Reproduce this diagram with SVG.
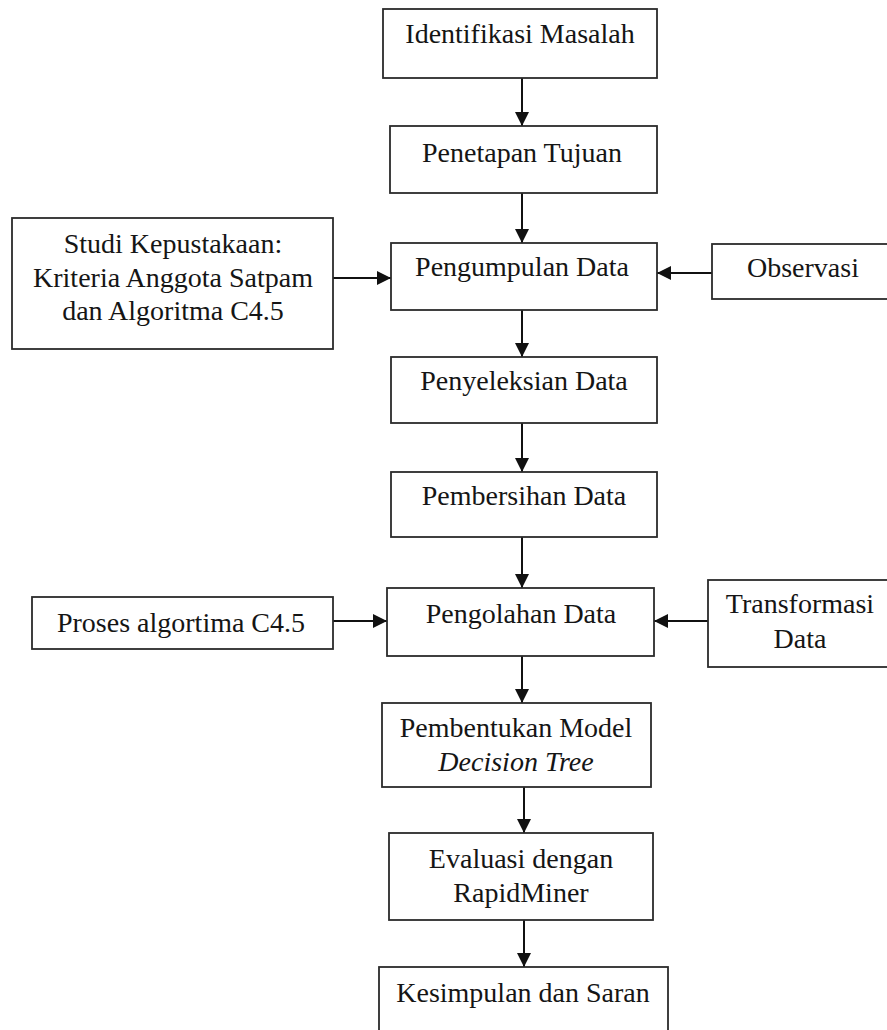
<svg xmlns="http://www.w3.org/2000/svg" width="887" height="1030" viewBox="0 0 887 1030">
  <style>
    .box { fill: #ffffff; stroke: #2b2b2b; stroke-width: 1.8; }
    .lbl { font-family: "Liberation Serif", "Times New Roman", serif; font-size: 28px; fill: #151515; text-anchor: middle; }
    .it { font-style: italic; }
    .edge { stroke: #111111; stroke-width: 2; fill: none; marker-end: url(#arrow); }
  </style>
  <defs>
    <marker id="arrow" markerUnits="userSpaceOnUse" markerWidth="15" markerHeight="15" refX="14" refY="7" orient="auto">
      <path d="M0,0 L14,7 L0,14 Z" fill="#111111"/>
    </marker>
  </defs>
  <rect width="887" height="1030" fill="#ffffff"/>

  <!-- connectors -->
  <g id="connectors">
    <line class="edge" x1="522" y1="78" x2="522" y2="126"/>
    <line class="edge" x1="522" y1="193" x2="522" y2="243"/>
    <line class="edge" x1="333" y1="278" x2="391" y2="278"/>
    <line class="edge" x1="712" y1="273" x2="657" y2="273"/>
    <line class="edge" x1="522" y1="310" x2="522" y2="357"/>
    <line class="edge" x1="522" y1="423" x2="522" y2="472"/>
    <line class="edge" x1="522" y1="537" x2="522" y2="588"/>
    <line class="edge" x1="333" y1="621" x2="387" y2="621"/>
    <line class="edge" x1="708" y1="621" x2="654" y2="621"/>
    <line class="edge" x1="522" y1="656" x2="522" y2="703"/>
    <line class="edge" x1="524" y1="787" x2="524" y2="833"/>
    <line class="edge" x1="524" y1="920" x2="524" y2="967"/>
  </g>

  <g id="identifikasi">
    <rect class="box" x="383" y="9" width="274" height="69"/>
    <text class="lbl" x="520" y="43">Identifikasi Masalah</text>
  </g>
  <g id="penetapan">
    <rect class="box" x="390" y="126" width="267" height="67"/>
    <text class="lbl" x="522" y="162">Penetapan Tujuan</text>
  </g>
  <g id="studi">
    <rect class="box" x="12" y="218" width="321" height="131"/>
    <text class="lbl" x="173" y="253">Studi Kepustakaan:</text>
    <text class="lbl" x="173" y="287">Kriteria Anggota Satpam</text>
    <text class="lbl" x="173" y="320">dan Algoritma C4.5</text>
  </g>
  <g id="pengumpulan">
    <rect class="box" x="391" y="243" width="266" height="67"/>
    <text class="lbl" x="522" y="276">Pengumpulan Data</text>
  </g>
  <g id="observasi">
    <rect class="box" x="712" y="244" width="190" height="55"/>
    <text class="lbl" x="803" y="277">Observasi</text>
  </g>
  <g id="penyeleksian">
    <rect class="box" x="391" y="357" width="266" height="66"/>
    <text class="lbl" x="524" y="390">Penyeleksian Data</text>
  </g>
  <g id="pembersihan">
    <rect class="box" x="391" y="472" width="266" height="65"/>
    <text class="lbl" x="524" y="505">Pembersihan Data</text>
  </g>
  <g id="proses">
    <rect class="box" x="32" y="597" width="301" height="52"/>
    <text class="lbl" x="181" y="632">Proses algortima C4.5</text>
  </g>
  <g id="pengolahan">
    <rect class="box" x="387" y="588" width="267" height="68"/>
    <text class="lbl" x="521" y="623">Pengolahan Data</text>
  </g>
  <g id="transformasi">
    <rect class="box" x="708" y="580" width="190" height="87"/>
    <text class="lbl" x="800" y="613">Transformasi</text>
    <text class="lbl" x="800" y="648">Data</text>
  </g>
  <g id="pembentukan">
    <rect class="box" x="382" y="703" width="269" height="84"/>
    <text class="lbl" x="516" y="737">Pembentukan Model</text>
    <text class="lbl it" x="516" y="771">Decision Tree</text>
  </g>
  <g id="evaluasi">
    <rect class="box" x="389" y="833" width="264" height="87"/>
    <text class="lbl" x="521" y="868">Evaluasi dengan</text>
    <text class="lbl" x="521" y="902">RapidMiner</text>
  </g>
  <g id="kesimpulan">
    <rect class="box" x="379" y="967" width="289" height="80"/>
    <text class="lbl" x="523" y="1002">Kesimpulan dan Saran</text>
  </g>
</svg>
